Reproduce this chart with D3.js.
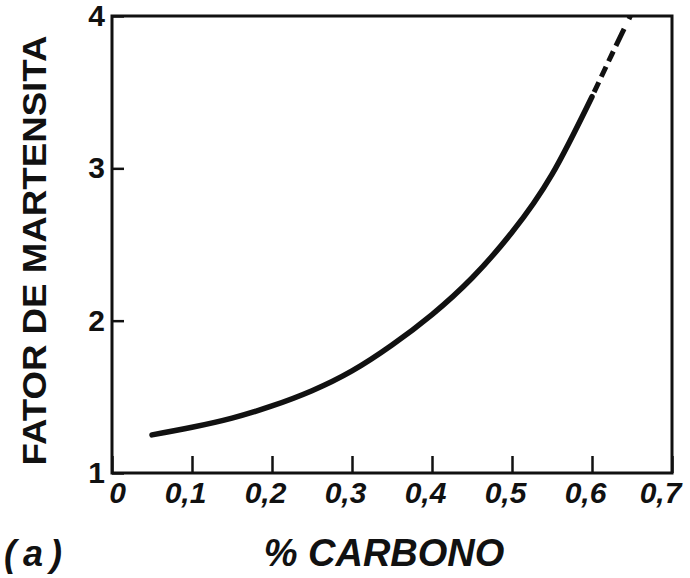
<!DOCTYPE html>
<html>
<head>
<meta charset="utf-8">
<script src="https://cdn.jsdelivr.net/npm/d3@7"></script>
<style>
  body { margin: 0; background: #fff; }
  svg { display: block; }
  text { font-family: "Liberation Sans", Arial, sans-serif; font-weight: bold; fill: #111; }
</style>
</head>
<body>
<div id="container"></div>
<script>
// curve
const carbon = [0.05, 0.1, 0.15, 0.2, 0.25, 0.3, 0.35, 0.4, 0.45, 0.5, 0.55, 0.6];
const factor = [1.25, 1.30, 1.36, 1.44, 1.54, 1.67, 1.84, 2.04, 2.28, 2.58, 2.96, 3.47];
// extrapolated (dashed) part
const carbonDash = [0.6, 0.625, 0.648];
const factorDash = [3.47, 3.75, 4.0];

const xTicks = [0, 0.1, 0.2, 0.3, 0.4, 0.5, 0.6, 0.7];
const yTicks = [1, 2, 3, 4];

const width = 690, height = 578;
const margin = {left: 112, right: 18, top: 16, bottom: 105};

const svg = d3.select('#container').append('svg')
  .attr('width', width)
  .attr('height', height);

const x = d3.scaleLinear().domain([0, 0.7]).range([margin.left, width - margin.right]);
const y = d3.scaleLinear().domain([1, 4]).range([height - margin.bottom, margin.top]);

const fmt = d => d === 0 ? '0' : d3.format('.1f')(d).replace('.', ',');

// x axis, ticks pointing inside
svg.append('g')
  .attr('transform', `translate(0,${y(1)})`)
  .call(d3.axisBottom(x).tickValues(xTicks).tickSizeInner(-17).tickSizeOuter(0).tickFormat(fmt))
  .call(g => g.select('.domain').remove())
  .call(g => g.selectAll('line').attr('stroke', '#111').attr('stroke-width', 2.5))
  .call(g => g.selectAll('text')
    .attr('y', 30)
    .attr('dy', 0)
    .attr('dx', d => d === 0 ? 5 : (d > 0.65 ? -12 : -7))
    .attr('font-size', 30)
    .attr('font-style', 'italic'));

// y axis
svg.append('g')
  .attr('transform', `translate(${x(0)},0)`)
  .call(d3.axisLeft(y).tickValues(yTicks).tickSizeInner(-12).tickSizeOuter(0).tickFormat(d3.format('d')))
  .call(g => g.select('.domain').remove())
  .call(g => g.selectAll('line').attr('stroke', '#111').attr('stroke-width', 2.5))
  .call(g => g.selectAll('text')
    .attr('x', -7)
    .attr('font-size', 30));

// frame
svg.append('rect')
  .attr('x', x(0))
  .attr('y', y(4))
  .attr('width', x(0.7) - x(0))
  .attr('height', y(1) - y(4))
  .attr('fill', 'none')
  .attr('stroke', '#111')
  .attr('stroke-width', 3);

const line = d3.line()
  .x(d => x(d[0]))
  .y(d => y(d[1]))
  .curve(d3.curveNatural);

svg.append('path')
  .datum(d3.zip(carbon, factor))
  .attr('d', line)
  .attr('fill', 'none')
  .attr('stroke', '#111')
  .attr('stroke-width', 5.5)
  .attr('stroke-linecap', 'round');

svg.append('path')
  .datum(d3.zip(carbonDash, factorDash))
  .attr('d', line)
  .attr('fill', 'none')
  .attr('stroke', '#111')
  .attr('stroke-width', 5)
  .attr('stroke-dasharray', '0,5,11,6,11,6,11,6,14');

// labels
svg.append('text')
  .attr('transform', `translate(46,${(y(1) + y(4)) / 2 + 6}) rotate(-90)`)
  .attr('text-anchor', 'middle')
  .attr('font-size', 34)
  .attr('textLength', 430)
  .attr('lengthAdjust', 'spacingAndGlyphs')
  .text('FATOR DE MARTENSITA');

svg.append('text')
  .attr('x', 384)
  .attr('y', 566)
  .attr('text-anchor', 'middle')
  .attr('font-size', 38)
  .attr('font-style', 'italic')
  .text('% CARBONO');

svg.append('text')
  .attr('x', 4)
  .attr('y', 566)
  .attr('font-size', 36)
  .attr('font-style', 'italic')
  .attr('letter-spacing', 7)
  .text('(a)');
</script>
</body>
</html>
